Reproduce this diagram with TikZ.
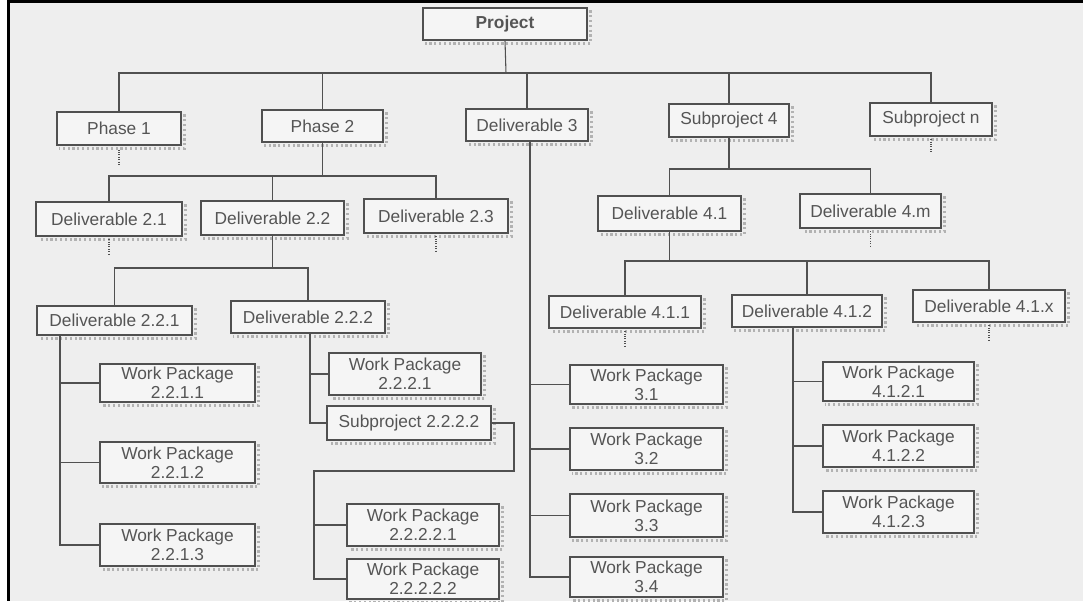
\documentclass[tikz,border=0pt]{standalone}
\usepackage{fontspec}
\newfontfamily\wbsfont{Liberation Sans}
\usetikzlibrary{calc}
\definecolor{bgcol}{RGB}{238,238,238}
\definecolor{boxfill}{RGB}{245,245,245}
\definecolor{linecol}{RGB}{80,80,80}
\definecolor{textcol}{RGB}{85,85,85}
\tikzset{
  wbs/.style={draw=linecol, line width=0.8pt, fill=boxfill, inner sep=0pt,
    font=\wbsfont\fontsize{13}{14}\selectfont, text=textcol, align=center},
  shadowline/.style={draw=gray!60, dotted, line width=1.6pt},
  conn/.style={draw=linecol, line width=0.8pt},
  stub/.style={draw=linecol, densely dotted, line width=0.8pt},
}
\newcommand\bx[6]{%
  \node[wbs, minimum width={(#4-#2)*0.75pt}, minimum height={(#5-#3)*0.75pt}] (#1) at ({(#2+#4)/2},{(#3+#5)/2}) {#6};
  \draw[shadowline] ([shift={(3,3)}]#1.north east) -- ([shift={(3,3)}]#1.south east) -- ([shift={(3,3)}]#1.south west);
}
\begin{document}
\begin{tikzpicture}[x=0.75pt,y=-0.75pt]
\clip (0,0) rectangle (1083,601);
\fill[white] (0,0) rectangle (1083,601);
\fill[bgcol] (10,3) rectangle (1083,601);
\fill[black] (7,0) rectangle (1083,3);
\fill[black] (7,0) rectangle (10,601);

% level 0/1
\bx{proj}{423}{8}{587}{40}{\bfseries Project}
\bx{ph1}{57}{112}{181}{145}{Phase 1}
\bx{ph2}{262}{110}{383}{142}{Phase 2}
\bx{d3}{466}{109}{588}{141}{Deliverable 3}
\bx{sp4}{669}{104}{789}{137}{Subproject 4}
\bx{spn}{870}{103}{992}{136}{Subproject n}

% level 2
\bx{d21}{36}{202}{182}{236}{Deliverable 2.1}
\bx{d22}{201}{201}{344}{235}{Deliverable 2.2}
\bx{d23}{364}{199}{508}{233}{Deliverable 2.3}
\bx{d41}{598}{196}{741}{231}{Deliverable 4.1}
\bx{d4m}{800}{194}{941}{228}{Deliverable 4.m}

% level 3
\bx{d221}{37}{306}{192}{335}{Deliverable 2.2.1}
\bx{d222}{231}{301}{385}{333}{Deliverable 2.2.2}
\bx{d411}{549}{296}{701}{328}{Deliverable 4.1.1}
\bx{d412}{732}{295}{882}{327}{Deliverable 4.1.2}
\bx{d41x}{913}{290}{1065}{322}{Deliverable 4.1.x}

% work packages
\bx{wp2211}{100}{364}{255}{402}{Work Package\\2.2.1.1}
\bx{wp2212}{100}{442}{255}{483}{Work Package\\2.2.1.2}
\bx{wp2213}{100}{524}{255}{566}{Work Package\\2.2.1.3}
\bx{wp2221}{329}{353}{481}{395}{Work Package\\2.2.2.1}
\bx{sp2222}{327}{406}{491}{440}{Subproject 2.2.2.2}
\bx{wp22221}{347}{504}{499}{546}{Work Package\\2.2.2.2.1}
\bx{wp22222}{347}{559}{499}{599}{Work Package\\2.2.2.2.2}
\bx{wp31}{570}{365}{723}{404}{Work Package\\3.1}
\bx{wp32}{570}{428}{723}{470}{Work Package\\3.2}
\bx{wp33}{570}{494}{723}{537}{Work Package\\3.3}
\bx{wp34}{570}{557}{723}{597}{Work Package\\3.4}
\bx{wp4121}{823}{362}{974}{401}{Work Package\\4.1.2.1}
\bx{wp4122}{823}{425}{974}{467}{Work Package\\4.1.2.2}
\bx{wp4123}{823}{491}{974}{533}{Work Package\\4.1.2.3}

% bus coordinates
\coordinate (bus0) at (506,73);
\coordinate (bus1) at (324,176);
\coordinate (bus2) at (729,169);
\coordinate (bus3) at (273,268);
\coordinate (bus4) at (669,261);
\coordinate (v221) at (60,0);
\coordinate (v222) at (310,0);
\coordinate (v3) at (530,0);
\coordinate (v412) at (793,0);
\coordinate (r1) at (514,471);
\coordinate (v2222) at (314,471);

% project level
\draw[conn] (proj.south) -- (bus0);
\draw[conn] (ph1.north) |- (spn.north |- bus0) -- (spn.north);
\draw[conn] (ph2.north) -- (ph2.north |- bus0);
\draw[conn] (d3.north) -- (d3.north |- bus0);
\draw[conn] (sp4.north) -- (sp4.north |- bus0);

% phase 2
\draw[conn] (ph2.south) -- (ph2.south |- bus1);
\draw[conn] (d21.north) |- (d23.north |- bus1) -- (d23.north);
\draw[conn] (d22.north) -- (d22.north |- bus1);

% deliverable 2.2
\draw[conn] (d22.south) -- (d22.south |- bus3);
\draw[conn] (d221.north) |- (d222.north |- bus3) -- (d222.north);

% deliverable 2.2.1
\draw[conn] (d221.south -| v221) |- (wp2213.west);
\draw[conn] (wp2211.west -| v221) -- (wp2211.west);
\draw[conn] (wp2212.west -| v221) -- (wp2212.west);

% deliverable 2.2.2
\draw[conn] (d222.south -| v222) |- (sp2222.west);
\draw[conn] (wp2221.west -| v222) -- (wp2221.west);

% subproject 2.2.2.2
\draw[conn] (sp2222.east) -| (r1) -- (v2222) |- (wp22222.west);
\draw[conn] (wp22221.west -| v2222) -- (wp22221.west);

% deliverable 3
\draw[conn] (d3.south -| v3) |- (wp34.west);
\draw[conn] (wp31.west -| v3) -- (wp31.west);
\draw[conn] (wp32.west -| v3) -- (wp32.west);
\draw[conn] (wp33.west -| v3) -- (wp33.west);

% subproject 4
\draw[conn] (sp4.south) -- (sp4.south |- bus2);
\draw[conn] (d41.north) |- (d4m.north |- bus2) -- (d4m.north);

% deliverable 4.1
\draw[conn] (d41.south) -- (d41.south |- bus4);
\draw[conn] (d411.north) |- (d41x.north |- bus4) -- (d41x.north);
\draw[conn] (d412.north) -- (d412.north |- bus4);

% deliverable 4.1.2
\draw[conn] (d412.south -| v412) |- (wp4123.west);
\draw[conn] (wp4121.west -| v412) -- (wp4121.west);
\draw[conn] (wp4122.west -| v412) -- (wp4122.west);

% dotted stubs
\draw[stub] ([yshift=-3pt]ph1.south) -- ++(0,16);
\draw[stub] ([yshift=-2pt]spn.south) -- ++(0,14);
\draw[stub] ([yshift=-2pt]d21.south) -- ++(0,15);
\draw[stub] ([yshift=-2pt]d23.south) -- ++(0,15);
\draw[stub] ([yshift=-2pt]d4m.south) -- ++(0,15);
\draw[stub] ([yshift=-2pt]d411.south) -- ++(0,16);
\draw[stub] ([yshift=-2pt]d41x.south) -- ++(0,15);
\end{tikzpicture}
\end{document}
